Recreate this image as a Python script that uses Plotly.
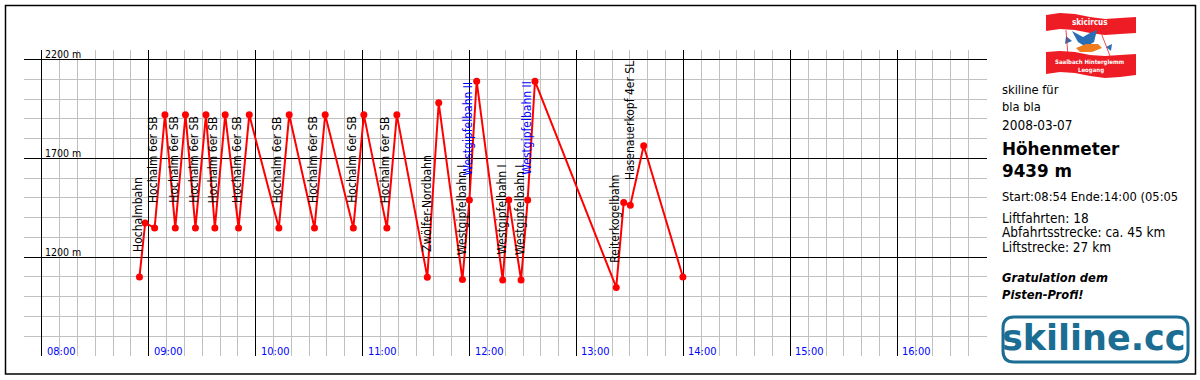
import plotly.graph_objects as go

DAY = "2008-03-07"

# ---- data ----
times = ["08:54:48", "08:58:00", "09:03:18", "09:09:06", "09:14:54", "09:20:36",
         "09:26:12", "09:32:06", "09:37:06", "09:42:54", "09:50:24", "09:56:24",
         "10:13:00", "10:18:48", "10:33:00", "10:39:00", "10:54:48", "11:00:42",
         "11:13:36", "11:19:12", "11:36:18", "11:42:42", "11:56:00", "11:59:54",
         "12:04:00", "12:18:36", "12:22:00", "12:28:54", "12:32:36", "12:36:42",
         "13:22:18", "13:26:30", "13:30:12", "13:37:42", "13:59:42"]
altitudes = [1100, 1373, 1348, 1920, 1348, 1920, 1348, 1920, 1348, 1920,
             1348, 1920, 1348, 1920, 1348, 1920, 1348, 1920, 1348, 1920,
             1099, 1981, 1087, 1489, 2090, 1085, 1489, 1085, 1489, 2090,
             1047, 1476, 1463, 1764, 1100]

lift_names = ["Hochalmbahn", "Hochalm 6er SB", "Hochalm 6er SB", "Hochalm 6er SB",
              "Hochalm 6er SB", "Hochalm 6er SB", "Hochalm 6er SB", "Hochalm 6er SB",
              "Hochalm 6er SB", "Hochalm 6er SB", "Zwölfer-Nordbahn", "Westgipfelbahn I",
              "Westgipfelbahn II", "Westgipfelbahn I", "Westgipfelbahn I",
              "Westgipfelbahn II", "Reiterkogelbahn", "Hasenauerkopf 4er SL"]
lift_start = [0, 2, 4, 6, 8, 10, 12, 14, 16, 18, 20, 22, 23, 25, 27, 28, 30, 32]

hour_labels = ["08:00", "09:00", "10:00", "11:00", "12:00", "13:00", "14:00", "15:00", "16:00"]
alt_labels = [1200, 1700, 2200]

intro = ["skiline für", "bla bla", "2008-03-07"]
headline = ["Höhenmeter", "9439 m"]
stats = ["Start:08:54 Ende:14:00 (05:05", "Liftfahrten: 18",
         "Abfahrtsstrecke: ca. 45 km", "Liftstrecke: 27 km"]
congrats = ["Gratulation dem", "Pisten-Profi!"]

# ---- layout helpers ----
W, H = 1200, 380
def px(x):
    return x / W
def py(y):
    return 1 - y / H

FONT = "DejaVu Sans Condensed, Liberation Sans Narrow, Roboto, sans-serif"
RED = "#ff0000"
TEAL = "#1b6d93"

x_vals = [f"{DAY} {t}" for t in times]

fig = go.Figure()
fig.add_trace(go.Scatter(
    x=x_vals, y=altitudes, mode="lines+markers",
    line=dict(color=RED, width=2),
    marker=dict(color=RED, size=7),
    hoverinfo="x+y", showlegend=False,
))

# grid values
major_x = [f"{DAY} {h}" for h in hour_labels]
minor_x = []
for hh in range(8, 17):
    for mm in range(0, 60, 10):
        if mm != 0:
            minor_x.append(f"{DAY} {hh:02d}:{mm:02d}")
minor_y = [v for v in range(800, 2200, 100) if v not in alt_labels]

fig.update_xaxes(
    type="date",
    range=[f"{DAY} 07:50:00", f"{DAY} 16:50:06"],
    domain=[px(23.98), px(986.6)],
    tickmode="array", tickvals=major_x, showticklabels=False, ticks="",
    showgrid=True, gridcolor="black", gridwidth=1,
    minor=dict(tickmode="array", tickvals=minor_x, showgrid=True,
               gridcolor="#c0c0c0", gridwidth=1, ticks=""),
    showline=False, zeroline=False, fixedrange=True,
)
fig.update_yaxes(
    range=[700, 2250],
    domain=[py(356), py(49.6)],
    tickmode="array", tickvals=alt_labels, showticklabels=False, ticks="",
    showgrid=True, gridcolor="black", gridwidth=1,
    minor=dict(tickmode="array", tickvals=minor_y, showgrid=True,
               gridcolor="#c0c0c0", gridwidth=1, ticks=""),
    showline=False, zeroline=False, fixedrange=True,
)

ann = []
# hour labels (blue, inside bottom)
for h in hour_labels:
    ann.append(dict(x=f"{DAY} {h}", y=700, xref="x", yref="y", text=h,
                    showarrow=False, xanchor="left", yanchor="bottom",
                    xshift=3, yshift=-4, font=dict(family=FONT, size=11, color="#0000ff")))
# altitude labels
for a in alt_labels:
    ann.append(dict(x=f"{DAY} 08:00", y=a, xref="x", yref="y", text=f"{a} m",
                    showarrow=False, xanchor="left", yanchor="bottom",
                    xshift=1, yshift=-3, font=dict(family=FONT, size=10.5, color="black")))
# lift labels
for name, i in zip(lift_names, lift_start):
    col = "#0000ff" if name.endswith(" II") else "black"
    ann.append(dict(x=x_vals[i], y=altitudes[i], xref="x", yref="y", text=name,
                    showarrow=False, textangle=-90, xanchor="center", yanchor="bottom",
                    xshift=-1, yshift=23, font=dict(family=FONT, size=12, color=col)))

# info panel
def info(text, yc, size, bold=False, italic=False, family=FONT, color="black", x=1000):
    t = text
    if italic:
        t = f"<i>{t}</i>"
    if bold:
        t = f"<b>{t}</b>"
    ann.append(dict(x=px(x), y=py(yc), xref="paper", yref="paper", text=t,
                    showarrow=False, xanchor="left", yanchor="middle", align="left",
                    font=dict(family=family, size=size, color=color)))

info("<br>".join(intro[:2]), 98, 12.8)
info(intro[2], 125.5, 13.5)
info("<b>" + "<br>".join(headline) + "</b>", 159.5, 16.8, family="DejaVu Sans, sans-serif")
info(stats[0], 197, 12.8)
info(stats[1], 218, 13.5)
info(stats[2], 232.5, 13.5)
info(stats[3], 247, 13.5)
info(congrats[0], 277.5, 12.8, bold=True, italic=True)
info(congrats[1], 294, 12.8, bold=True, italic=True)

# skicircus logo texts
ann.append(dict(x=px(1090), y=py(23), xref="paper", yref="paper", text="<b>skicircus</b>",
                showarrow=False, xanchor="center", yanchor="middle",
                font=dict(family=FONT, size=8, color="white")))
ann.append(dict(x=px(1090), y=py(62), xref="paper", yref="paper",
                text="<b>Saalbach Hinterglemm</b>", showarrow=False,
                xanchor="center", yanchor="middle",
                font=dict(family=FONT, size=6, color="white")))
ann.append(dict(x=px(1091), y=py(70), xref="paper", yref="paper", text="<b>Leogang</b>",
                showarrow=False, xanchor="center", yanchor="middle",
                font=dict(family=FONT, size=6, color="white")))
# skiline.cc logo text
ann.append(dict(x=px(1094), y=py(338), xref="paper", yref="paper", text="<b>skiline.cc</b>",
                showarrow=False, xanchor="center", yanchor="middle",
                font=dict(family="DejaVu Sans, sans-serif", size=35, color=TEAL)))

def path(points, close=True):
    s = "M " + " L ".join(f"{px(x):.5f},{py(y):.5f}" for x, y in points)
    return s + (" Z" if close else "")

shapes = []
# outer border
shapes.append(dict(type="rect", xref="paper", yref="paper",
                   x0=px(5.5), x1=px(1195.5), y0=py(5.5), y1=py(374),
                   line=dict(color="black", width=1.5), fillcolor="rgba(0,0,0,0)"))
# skicircus flag: red bands with a wave
top_band = [(1046, 15), (1060, 13), (1075, 14), (1090, 17), (1105, 19), (1120, 18), (1136, 17),
            (1136, 33), (1120, 34), (1105, 35), (1090, 33), (1075, 30), (1060, 29), (1046, 31)]
bot_band = [(1046, 52), (1060, 51), (1075, 52), (1090, 55), (1105, 56), (1120, 55), (1136, 54),
            (1136, 75), (1120, 77), (1105, 78), (1090, 76), (1075, 73), (1060, 72), (1046, 74)]
for band in (top_band, bot_band):
    shapes.append(dict(type="path", xref="paper", yref="paper", path=path(band),
                       fillcolor="#ee1c25", line=dict(width=0)))
# skier graphic
shapes.append(dict(type="path", xref="paper", yref="paper",
                   path=path([(1072, 31), (1083, 37), (1090, 33), (1097, 30), (1094, 42),
                              (1086, 47), (1078, 42)]),
                   fillcolor="#2a6fb5", line=dict(width=0)))
shapes.append(dict(type="path", xref="paper", yref="paper",
                   path=path([(1076, 48), (1086, 44), (1098, 44), (1102, 48), (1092, 52), (1080, 52)]),
                   fillcolor="#f07c1e", line=dict(width=0)))
shapes.append(dict(type="path", xref="paper", yref="paper",
                   path=path([(1066, 36), (1072, 41), (1065, 44)]),
                   fillcolor="#2a6fb5", line=dict(width=0)))
shapes.append(dict(type="path", xref="paper", yref="paper",
                   path=path([(1106, 47), (1112, 44), (1111, 51)]),
                   fillcolor="#2a6fb5", line=dict(width=0)))
shapes.append(dict(type="path", xref="paper", yref="paper",
                   path=path([(1066, 30), (1068, 56)], close=False),
                   line=dict(color="#ee1c25", width=0.8)))
shapes.append(dict(type="path", xref="paper", yref="paper",
                   path=path([(1100, 30), (1110, 56)], close=False),
                   line=dict(color="#ee1c25", width=0.8)))
# skiline.cc rounded rectangle
x0, x1, y0, y1, r = 1003, 1188, 317, 362, 11
rr = (f"M {px(x0 + r)},{py(y0)} L {px(x1 - r)},{py(y0)} "
      f"Q {px(x1)},{py(y0)} {px(x1)},{py(y0 + r)} L {px(x1)},{py(y1 - r)} "
      f"Q {px(x1)},{py(y1)} {px(x1 - r)},{py(y1)} L {px(x0 + r)},{py(y1)} "
      f"Q {px(x0)},{py(y1)} {px(x0)},{py(y1 - r)} L {px(x0)},{py(y0 + r)} "
      f"Q {px(x0)},{py(y0)} {px(x0 + r)},{py(y0)} Z")
shapes.append(dict(type="path", xref="paper", yref="paper", path=rr,
                   line=dict(color=TEAL, width=3), fillcolor="rgba(0,0,0,0)"))

fig.update_layout(
    width=W, height=H, margin=dict(l=0, r=0, t=0, b=0),
    paper_bgcolor="white", plot_bgcolor="white",
    annotations=ann, shapes=shapes, showlegend=False,
    font=dict(family=FONT),
)

fig.write_html("out.html", config={"displayModeBar": False},
               post_script="document.body.style.margin='0';document.body.style.overflow='hidden';")
